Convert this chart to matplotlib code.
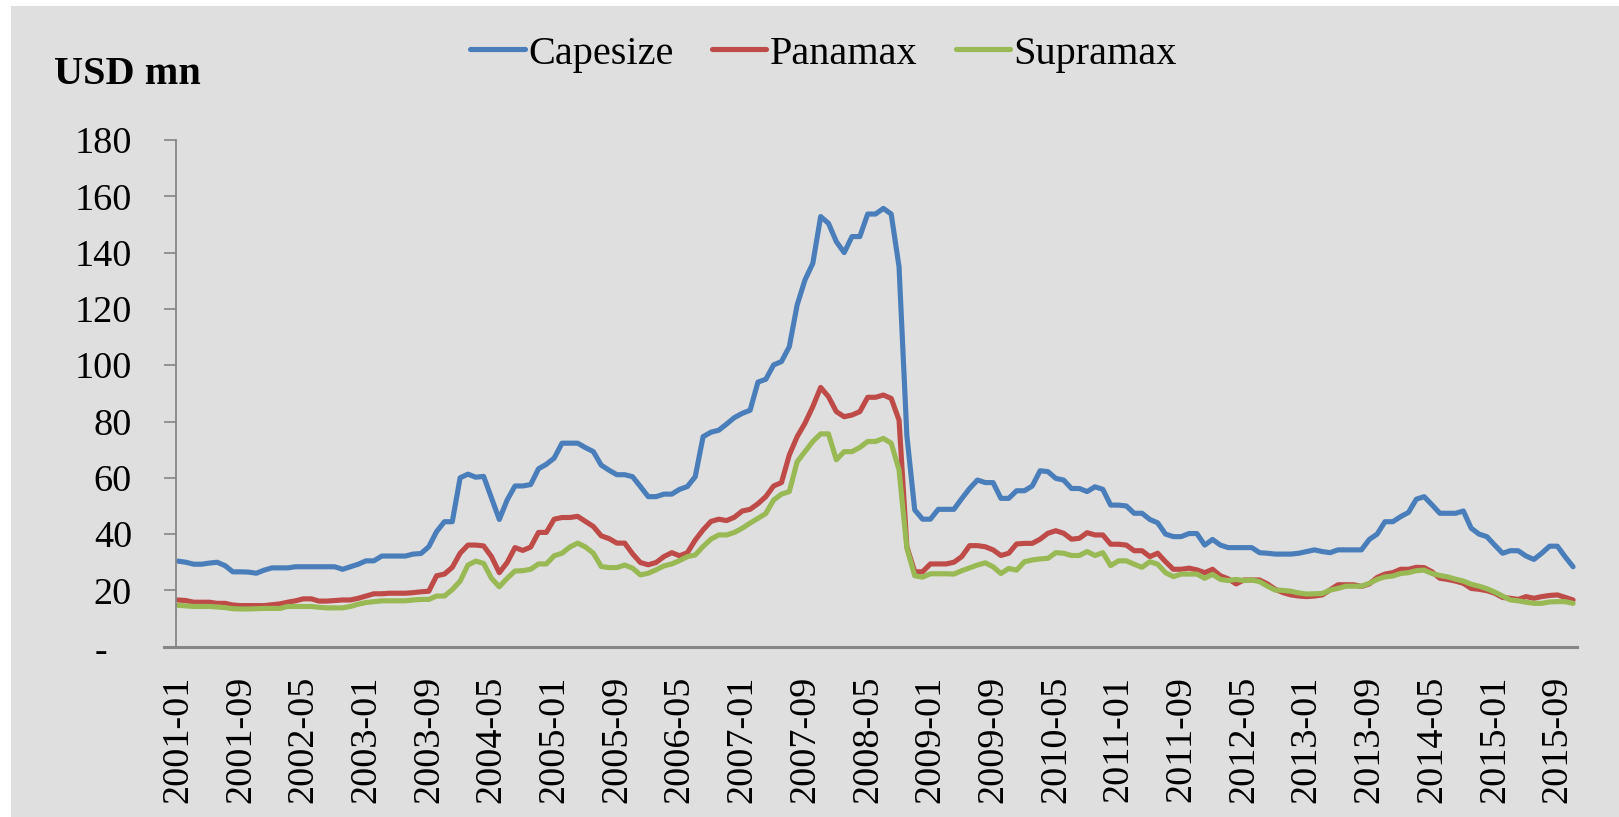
import matplotlib
matplotlib.use("Agg")
import matplotlib.pyplot as plt
import matplotlib.transforms as mtransforms
from matplotlib.patches import Rectangle

# ---------------- data (monthly, 2001-01 .. 2015-11) ----------------
start_year, start_month = 2001, 1

capesize = [30.4, 30.0, 29.3, 29.3, 29.7, 30.0, 28.8, 26.6, 26.6, 26.5,
            26.1, 27.2, 28.0, 28.0, 28.0, 28.4, 28.4, 28.4, 28.4, 28.4,
            28.4, 27.5, 28.4, 29.3, 30.5, 30.5, 32.2, 32.2, 32.2, 32.2,
            32.9, 33.1, 35.5, 40.9, 44.4, 44.4,
            60.0, 61.3, 60.2, 60.5, 52.8, 45.2, 52.1, 57.1, 57.1, 57.6,
            63.2, 64.8, 67.0, 72.3, 72.3, 72.3, 70.7, 69.3, 64.5, 62.7,
            61.1, 61.1, 60.4, 56.9, 53.3, 53.3, 54.2, 54.2, 55.9, 56.9,
            60.4, 74.6, 76.2, 76.9, 79.1, 81.4, 82.9, 84.0, 94.0,
            95.0, 100.1, 101.3, 106.6, 121.4, 130.3, 136.2, 152.8, 150.4, 143.9,
            140.0, 145.7, 145.7, 153.7, 153.7, 155.7, 153.7, 135.0, 75.0, 48.6,
            45.3, 45.3, 48.8, 48.8,
            48.8, 52.6, 56.2, 59.2, 58.3, 58.3, 52.7, 52.7, 55.4, 55.4,
            57.1, 62.5, 62.2, 59.8, 59.2, 56.2, 56.2, 55.1, 56.8, 55.9,
            50.3, 50.3, 50.0, 47.4, 47.4, 45.2, 44.0, 40.0, 39.1, 39.1,
            40.2, 40.2, 36.1, 38.1, 36.1, 35.2, 35.2, 35.2, 35.2,
            33.4, 33.2, 32.9, 32.9, 32.9, 33.2, 33.8, 34.4, 33.8, 33.4,
            34.4, 34.4, 34.4, 34.4, 38.1, 40.0, 44.4, 44.4, 46.2, 47.7,
            52.4, 53.3, 50.4, 47.4, 47.4, 47.4, 48.2, 42.1, 40.0, 39.1,
            36.1, 33.2, 34.1, 34.1, 32.2, 31.0, 33.2, 35.7, 35.7, 31.9,
            28.4]

panamax = [16.6, 16.4, 15.8, 15.8, 15.8, 15.4, 15.4, 14.8, 14.6, 14.6,
           14.6, 14.6, 14.9, 15.2, 15.8, 16.3, 17.0, 17.0, 16.2, 16.2,
           16.4, 16.6, 16.6, 17.2, 18.0, 18.8, 18.8, 19.0, 19.0, 19.0,
           19.2, 19.5, 19.7, 25.2, 25.8, 28.2,
           33.2, 36.1, 36.1, 35.8, 32.0, 26.3, 29.9, 35.2, 34.2, 35.4,
           40.6, 40.6, 45.3, 45.9, 45.9, 46.3, 44.5, 42.7, 39.4, 38.4,
           36.8, 36.8, 33.0, 29.9, 29.1, 29.9, 32.0, 33.4, 32.3, 33.4,
           37.9, 41.5, 44.5, 45.3, 44.8, 46.0, 48.2, 48.8, 50.8,
           53.3, 57.1, 58.3, 68.1, 74.6, 79.4, 85.3, 92.1, 88.8, 83.5,
           81.7, 82.3, 83.5, 88.6, 88.6, 89.4, 88.2, 80.5, 35.5, 26.6,
           26.6, 29.4, 29.4, 29.4,
           30.0, 32.0, 35.9, 35.9, 35.5, 34.4, 32.4, 33.2, 36.5, 36.7,
           36.7, 38.2, 40.3, 41.2, 40.3, 38.2, 38.5, 40.5, 39.7, 39.7,
           36.4, 36.4, 36.1, 34.1, 34.1, 32.0, 33.2, 30.2, 27.5, 27.5,
           27.9, 27.3, 26.3, 27.5, 25.2, 24.1, 22.3, 23.7, 23.7,
           23.7, 22.3, 20.4, 19.2, 18.4, 18.0, 17.8, 18.0, 18.4, 20.2,
           22.0, 22.0, 22.0, 21.4, 22.3, 24.6, 25.8, 26.3, 27.5, 27.5,
           28.2, 28.1, 26.6, 24.3, 23.9, 23.3, 22.5, 20.7, 20.4, 19.9,
           19.0, 17.5, 17.2, 16.8, 17.8, 17.2, 17.8, 18.2, 18.4, 17.5,
           16.6]

supramax = [14.7, 14.5, 14.3, 14.3, 14.3, 14.1, 13.9, 13.5, 13.4, 13.4,
            13.5, 13.6, 13.6, 13.6, 14.3, 14.3, 14.3, 14.3, 14.0, 13.8,
            13.8, 13.8, 14.3, 15.1, 15.7, 16.0, 16.3, 16.3, 16.3, 16.3,
            16.6, 16.8, 16.8, 18.0, 18.0, 20.3,
            23.3, 29.0, 30.4, 29.6, 24.3, 21.3, 24.3, 26.9, 27.0, 27.5,
            29.4, 29.4, 32.3, 33.2, 35.4, 36.8, 35.4, 33.2, 28.5, 28.1,
            28.1, 29.0, 27.9, 25.5, 26.1, 27.3, 28.7, 29.4, 30.6, 32.0,
            32.6, 35.6, 38.2, 39.7, 39.7, 40.6, 42.1, 43.9, 45.6,
            47.3, 52.1, 54.2, 55.1, 65.7, 69.3, 72.9, 75.6, 75.6, 66.4,
            69.3, 69.3, 70.8, 72.9, 72.9, 74.0, 72.3, 62.8, 35.0, 25.2,
            24.7, 25.9, 25.9, 25.9,
            25.8, 27.0, 28.0, 29.0, 29.8, 28.4, 26.0, 27.8, 27.2, 30.2,
            30.8, 31.2, 31.4, 33.4, 33.2, 32.4, 32.4, 33.8, 32.4, 33.4,
            28.8, 30.5, 30.5, 29.3, 28.2, 30.2, 29.3, 26.3, 24.9, 25.8,
            25.8, 25.8, 24.3, 25.7, 23.9, 23.5, 23.9, 23.5, 23.7,
            23.1, 21.5, 20.1, 20.0, 19.7, 19.1, 18.7, 18.8, 18.9, 20.1,
            20.7, 21.5, 21.5, 21.5, 22.5, 23.9, 24.8, 25.1, 26.0, 26.3,
            27.0, 27.2, 26.0, 25.3, 24.8, 24.0, 23.3, 22.2, 21.5, 20.6,
            19.4, 18.0, 16.6, 16.3, 15.8, 15.4, 15.4, 15.9, 16.0, 16.0,
            15.4]

series_names = ["Capesize", "Panamax", "Supramax"]
series_colors = ["#4A7EBB", "#BE4B48", "#98B954"]
y_ticks = [0, 20, 40, 60, 80, 100, 120, 140, 160, 180]
y_ticklabels = ["-", "20", "40", "60", "80", "100", "120", "140", "160", "180"]
label_every = 8

n = len(capesize)
months = []
for i in range(n):
    y = start_year + (start_month - 1 + i) // 12
    m = (start_month - 1 + i) % 12 + 1
    months.append(f"{y}-{m:02d}")
x = list(range(n))

# ---------------- figure ----------------
W, H = 1619, 817
plt.rcParams['font.family'] = ['Liberation Serif', 'DejaVu Serif']
FS_TICK = 27.5
FS_LEG = 29

fig = plt.figure(figsize=(W / 100, H / 100), dpi=100, facecolor="white")
fig.patches.append(Rectangle((11 / W, 0), 1, 1 - 6 / H, transform=fig.transFigure,
                             facecolor="#DFDFDF", edgecolor="none", zorder=-10))

ax = fig.add_axes([176 / W, 1 - 646.7 / H, (1577 - 176) / W, (646.7 - 140) / H])
ax.set_facecolor("none")

for vals, name, col in zip([capesize, panamax, supramax], series_names, series_colors):
    ax.plot(x, vals, color=col, lw=3.7, label=name, solid_joinstyle="round",
            solid_capstyle="round")

ax.set_xlim(-0.25, n - 1 + 0.5)
ax.set_ylim(0, 180)

ax.set_yticks(y_ticks)
ax.set_yticklabels(y_ticklabels)
ax.tick_params(axis="y", direction="out", length=8.6, width=1.2, color="#868686",
               pad=23, labelsize=FS_TICK)
tick_idx = list(range(0, n, label_every))
ax.set_xticks(tick_idx)
ax.set_xticklabels([months[i] for i in tick_idx], rotation=90, va="top", ha="center")
ax.tick_params(axis="x", length=0, pad=21, labelsize=FS_TICK)

# zero label: dash shifted left (accounting-style format)
lbl0 = ax.get_yticklabels()[0]
lbl0.set_transform(lbl0.get_transform() +
                   mtransforms.ScaledTranslation(-25 / 100, -2 / 100, fig.dpi_scale_trans))

for s in ["top", "right"]:
    ax.spines[s].set_visible(False)
ax.spines["left"].set_color("#868686")
ax.spines["left"].set_linewidth(1.3)
ax.spines["bottom"].set_color("#868686")
ax.spines["bottom"].set_linewidth(2.2)
ax.spines["bottom"].set_bounds(-0.25 - 12 / 7.837, n - 1 + 0.5)

fig.text(54 / W, 1 - 74 / H, "USD mn", fontsize=FS_LEG, fontweight="bold",
         ha="left", va="center")

fig.legend(loc="center", bbox_to_anchor=(823.5 / W, 1 - 54 / H), ncol=3,
           frameon=False, fontsize=FS_LEG, handlelength=1.36, handletextpad=0.08,
           columnspacing=0.95, borderaxespad=0, borderpad=0)

fig.savefig("out.png", dpi=100, facecolor=fig.get_facecolor())
